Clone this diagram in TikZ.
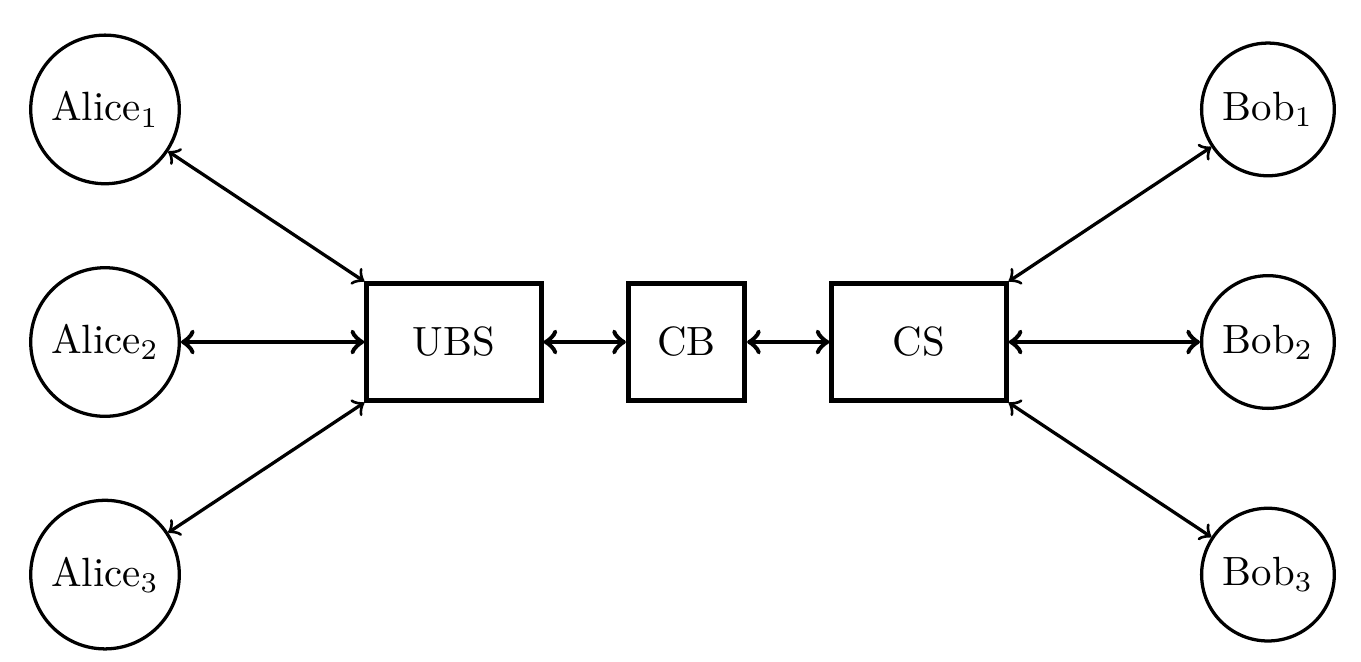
\documentclass[tikz,border=0pt]{standalone}
\usetikzlibrary{arrows}
\begin{document}
\begin{tikzpicture}[
  party/.style={circle, draw, thick},
  relay/.style={rectangle, draw, very thick, minimum height=1cm},
  wide/.style={relay, minimum width=1.5cm},
  narrow/.style={relay, minimum width=1cm},
  link/.style={<->, thick},
  mainlink/.style={<->, very thick}
]
\useasboundingbox (-0.903,-2.743) rectangle (10.80,2.941);
\node[party] (a1) at (0,2) {Alice$_1$};
\node[party] (a2) at (0,0) {Alice$_2$};
\node[party] (a3) at (0,-2) {Alice$_3$};
\node[wide] (ubs) at (3,0) {UBS};
\node[narrow] (cb) at (5,0) {CB};
\node[wide] (cs) at (7,0) {CS};
\node[party] (b1) at (10,2) {Bob$_1$};
\node[party] (b2) at (10,0) {Bob$_2$};
\node[party] (b3) at (10,-2) {Bob$_3$};
\draw[link] (a1) -- (ubs.north west);
\draw[mainlink] (a2) -- (ubs);
\draw[link] (a3) -- (ubs.south west);
\draw[mainlink] (ubs) -- (cb);
\draw[mainlink] (cb) -- (cs);
\draw[link] (cs.north east) -- (b1);
\draw[mainlink] (cs) -- (b2);
\draw[link] (cs.south east) -- (b3);
\end{tikzpicture}
\end{document}
